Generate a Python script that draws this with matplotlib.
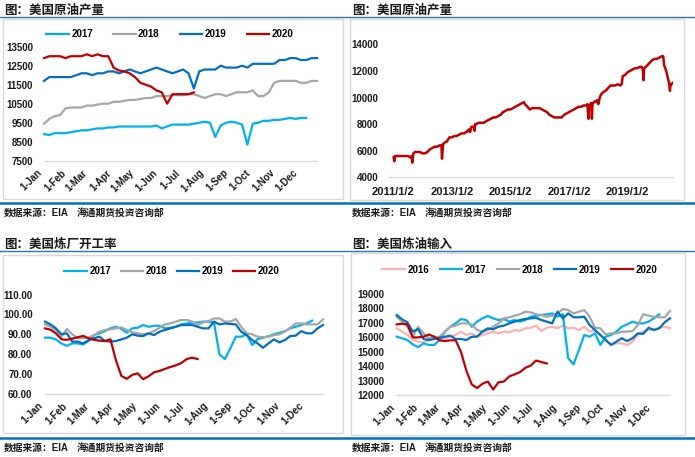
import numpy as np
import pandas as pd
import matplotlib
matplotlib.use("Agg")
import matplotlib.pyplot as plt
from matplotlib.lines import Line2D
from matplotlib.patches import Rectangle
from matplotlib.ticker import FormatStrFormatter

plt.rcParams['font.family'] = ['Liberation Sans', 'Noto Sans CJK SC', 'DejaVu Sans']
plt.rcParams['font.weight'] = 'bold'

W, H = 695, 457

# series colours
C2016 = '#FFB0B0'
C2017 = '#00B0F0'
C2018 = '#A6A6A6'
C2019 = '#0070C0'
C2020 = '#C00000'

month_days = [0, 31, 59, 90, 120, 151, 181, 212, 243, 273, 304, 334]
month_labels = ['1-Jan', '1-Feb', '1-Mar', '1-Apr', '1-May', '1-Jun',
                '1-Jul', '1-Aug', '1-Sep', '1-Oct', '1-Nov', '1-Dec']

# --- 美国原油产量 (weekly, by year)
prod17 = [8900, 8850, 8950, 8950, 8950, 9000, 9050, 9100, 9100, 9150,
          9200, 9200, 9250, 9250, 9300, 9300, 9300, 9300, 9300, 9300,
          9300, 9350, 9200, 9300, 9400, 9400, 9400, 9400, 9450, 9500,
          9550, 9500, 8750, 9350, 9500, 9550, 9500, 9400, 8350, 9450,
          9500, 9600, 9600, 9650, 9650, 9700, 9750, 9700, 9750, 9750]
prod18 = [9450, 9700, 9850, 9900, 10250, 10300, 10300, 10300, 10400, 10400,
          10450, 10500, 10500, 10600, 10600, 10650, 10700, 10700, 10750, 10800,
          10800, 10900, 10900, 10900, 10950, 10950, 10950, 11000, 11000, 10900,
          10800, 10900, 11000, 11000, 10900, 11000, 11100, 11100, 11100, 11200,
          10900, 10900, 11100, 11600, 11700, 11700, 11700, 11700, 11600, 11600,
          11700, 11700]
prod19 = [11700, 11900, 11900, 11900, 11900, 11900, 12000, 12100, 12100, 12000,
          12100, 12100, 12200, 12200, 12100, 12200, 12300, 12200, 12100, 12200,
          12300, 12400, 12300, 12200, 12100, 12200, 12300, 12100, 11300, 12200,
          12300, 12300, 12300, 12500, 12400, 12400, 12400, 12500, 12400, 12600,
          12600, 12600, 12600, 12600, 12800, 12800, 12900, 12900, 12800, 12800,
          12900, 12900]
prod20 = [12900, 13000, 13000, 13000, 12900, 13000, 13000, 13000, 13100, 13000,
          13100, 13000, 13000, 12400, 12250, 12200, 12100, 11900, 11600, 11500,
          11400, 11200, 11100, 10500, 11000, 11000, 11000, 11000, 11100]

# --- 美国原油产量 (long history)
hist_dates = ['2011-01-07', '2011-01-14', '2011-01-21', '2011-03-01', '2011-04-01',
              '2011-05-01', '2011-06-01', '2011-07-01', '2011-08-01', '2011-08-19',
              '2011-08-26', '2011-09-09', '2011-10-01', '2011-11-01', '2011-12-01',
              '2012-01-01', '2012-02-01', '2012-03-01', '2012-04-01', '2012-05-01',
              '2012-06-01', '2012-07-01', '2012-08-01', '2012-08-24', '2012-08-31',
              '2012-09-14', '2012-10-01', '2012-11-01', '2012-12-01', '2013-01-01',
              '2013-02-01', '2013-03-01', '2013-04-01', '2013-05-01', '2013-06-01',
              '2013-07-01', '2013-07-19', '2013-08-01', '2013-08-16', '2013-09-01',
              '2013-10-01', '2013-10-11', '2013-10-18', '2013-11-01', '2013-12-01',
              '2014-01-01', '2014-02-01', '2014-03-01', '2014-04-01', '2014-05-01',
              '2014-06-01', '2014-07-01', '2014-08-01', '2014-09-01', '2014-10-01',
              '2014-11-01', '2014-12-01', '2015-01-01', '2015-02-01', '2015-03-01',
              '2015-04-01', '2015-05-01', '2015-06-01', '2015-06-19', '2015-07-01',
              '2015-08-01', '2015-09-01', '2015-10-01', '2015-11-01', '2015-12-01',
              '2016-01-01', '2016-02-01', '2016-03-01', '2016-04-01', '2016-05-01',
              '2016-06-01', '2016-07-01', '2016-08-01', '2016-09-01', '2016-10-01',
              '2016-11-01', '2016-12-01', '2017-01-01', '2017-02-01', '2017-03-01',
              '2017-04-01', '2017-05-01', '2017-06-01', '2017-07-01', '2017-08-01',
              '2017-08-18', '2017-08-25', '2017-09-01', '2017-09-08', '2017-09-22',
              '2017-10-06', '2017-10-13', '2017-10-20', '2017-11-01', '2017-11-17',
              '2017-12-01', '2017-12-15', '2018-01-01', '2018-01-19', '2018-02-01',
              '2018-03-01', '2018-04-01', '2018-05-01', '2018-06-01', '2018-07-01',
              '2018-08-01', '2018-09-01', '2018-10-01', '2018-10-19', '2018-11-01',
              '2018-12-01', '2019-01-01', '2019-02-01', '2019-03-01', '2019-04-01',
              '2019-05-01', '2019-06-01', '2019-06-28', '2019-07-12', '2019-07-19',
              '2019-07-26', '2019-08-15', '2019-09-01', '2019-10-01', '2019-11-01',
              '2019-12-01', '2020-01-01', '2020-02-01', '2020-03-01', '2020-03-20',
              '2020-04-01', '2020-04-15', '2020-05-01', '2020-05-15', '2020-06-01',
              '2020-06-12', '2020-06-19', '2020-07-03', '2020-07-17']
hist_values = [5500, 5200, 5600, 5600, 5600,
               5600, 5600, 5600, 5500, 5600,
               5100, 5800, 5900, 5900, 5900,
               5800, 5800, 5900, 6100, 6200,
               6300, 6300, 6400, 6400, 5400,
               6500, 6600, 6700, 7000, 7000,
               7100, 7100, 7200, 7300, 7300,
               7400, 7500, 7600, 7400, 7800,
               7800, 7500, 8000, 8000, 8100,
               8100, 8100, 8200, 8300, 8400,
               8500, 8500, 8600, 8700, 8900,
               9000, 9100, 9100, 9200, 9300,
               9400, 9500, 9600, 9650, 9500,
               9300, 9100, 9200, 9200, 9200,
               9200, 9100, 9000, 8900, 8700,
               8600, 8500, 8500, 8500, 8500,
               8700, 8800, 8900, 9000, 9100,
               9200, 9300, 9300, 9400, 9400,
               9500, 8800, 8400, 9400, 9500,
               9600, 8400, 9500, 9600, 9700,
               9700, 9800, 9500, 10000, 10200,
               10400, 10500, 10700, 10900, 10900,
               10900, 11000, 10900, 11000, 11600,
               11700, 11900, 12000, 12100, 12200,
               12200, 12300, 12300, 12000, 11300,
               12200, 12300, 12400, 12600, 12800,
               12900, 12900, 13000, 13100, 13100,
               12400, 12200, 11900, 11500, 11100,
               10500, 11000, 11000, 11100]
hist_ticks = ['2011-01-02', '2013-01-02', '2015-01-02', '2017-01-02', '2019-01-02']
hist_tick_labels = ['2011/1/2', '2013/1/2', '2015/1/2', '2017/1/2', '2019/1/2']

# --- 美国炼厂开工率
util17 = [88.3, 88.3, 87.4, 85.4, 84.2, 85.4, 85.4, 84.9, 86.6, 89.6,
          90.5, 91.6, 93.0, 93.8, 92.7, 90.8, 93.0, 93.3, 94.7, 93.8,
          94.3, 94.3, 93.0, 93.3, 93.8, 95.0, 95.5, 95.9, 95.9, 96.4,
          96.4, 96.0, 79.9, 77.5, 82.9, 88.8, 88.8, 90.0, 84.6, 87.6,
          88.3, 89.0, 90.0, 90.8, 91.6, 93.0, 93.8, 94.7, 95.5, 96.9]
util18 = [95.0, 93.8, 92.2, 88.8, 92.7, 90.0, 88.0, 88.0, 88.3, 89.6,
          91.3, 92.2, 92.5, 93.0, 93.5, 92.2, 91.0, 90.5, 90.0, 90.5,
          91.6, 93.3, 95.0, 95.5, 96.4, 97.2, 97.2, 96.4, 94.7, 96.0,
          96.7, 98.0, 98.0, 96.4, 96.4, 97.7, 93.8, 90.5, 90.0, 88.8,
          88.5, 88.8, 89.6, 90.0, 91.3, 93.3, 95.5, 95.5, 95.0, 95.0,
          95.0, 97.5]
util19 = [96.4, 95.0, 93.0, 90.0, 90.5, 86.3, 86.3, 85.4, 87.1, 88.0,
          88.8, 86.6, 86.3, 86.6, 87.4, 88.3, 90.0, 89.3, 89.1, 90.5,
          89.6, 91.3, 92.2, 93.0, 93.8, 94.7, 94.7, 94.7, 93.8, 93.0,
          93.0, 96.4, 95.0, 95.5, 95.2, 95.0, 91.3, 89.6, 87.1, 85.4,
          83.2, 85.4, 87.4, 85.9, 87.1, 89.1, 89.3, 91.6, 90.5, 90.5,
          93.0, 94.7]
util20 = [93.0, 92.3, 90.5, 87.5, 87.2, 87.8, 88.5, 89.2, 88.0, 87.2,
          86.8, 86.6, 87.5, 77.0, 69.0, 67.5, 69.5, 70.3, 67.3, 68.8,
          70.8, 71.5, 72.5, 73.5, 74.3, 75.5, 77.5, 78.2, 77.5]

# --- 美国炼油输入
inp16 = [16630, 16400, 16170, 15820, 15710, 15660, 15820, 15940, 15940, 15940,
         16050, 16170, 16400, 16170, 16280, 16050, 16170, 16280, 16400, 16280,
         16400, 16350, 16510, 16450, 16630, 16670, 16810, 16440, 16670, 16740,
         16630, 16810, 16630, 16670, 16510, 16740, 16400, 16510, 16170, 15820,
         15480, 15590, 15590, 15480, 15710, 16170, 16400, 16510, 16560, 16670,
         16740, 16630]
inp17 = [16050, 15940, 15820, 15520, 15320, 15590, 15480, 15480, 15820, 16400,
         16740, 16970, 17270, 17200, 16740, 17090, 17320, 17480, 17320, 17200,
         17270, 17090, 17200, 17090, 17200, 17430, 17500, 17550, 17600, 17660,
         17430, 17600, 14560, 14140, 15130, 16170, 16050, 16280, 15480, 16050,
         16170, 16400, 16740, 16900, 17090, 16970, 16970, 17090, 17320, 17600]
inp18 = [17430, 17090, 16740, 16050, 16740, 16280, 15940, 15980, 16050, 16400,
         16740, 16810, 16970, 16970, 16900, 16510, 16400, 16510, 16740, 16970,
         17320, 17390, 17500, 17600, 17780, 17730, 17600, 17550, 17430, 17500,
         17660, 17960, 17890, 17660, 17780, 17890, 17430, 16670, 16630, 16210,
         16280, 16280, 16400, 16400, 16440, 16860, 17600, 17500, 17430, 17390,
         17390, 17830]
inp19 = [17550, 17250, 17040, 16400, 16580, 15890, 15820, 15890, 15980, 16050,
         16120, 15890, 15890, 15820, 16050, 16050, 16400, 16630, 16560, 16740,
         16810, 16970, 17090, 17200, 17270, 17320, 17360, 17200, 17090, 16970,
         17780, 17320, 17660, 17390, 17390, 17430, 16860, 16510, 16170, 15820,
         15480, 15710, 15940, 15750, 15940, 16280, 16240, 16670, 16510, 16630,
         17040, 17320]
inp20 = [16900, 16950, 16900, 16000, 16000, 16050, 16200, 16050, 15800, 15750,
         15800, 15800, 15000, 13700, 12750, 12500, 12800, 12950, 12400, 12900,
         12950, 13300, 13450, 13600, 13900, 14050, 14400, 14300, 14200]


fig = plt.figure(figsize=(W / 100, H / 100), dpi=100)


def px_axes(left, top, right, bottom):
    return fig.add_axes([left / W, 1 - bottom / H, (right - left) / W, (bottom - top) / H])


def hline(x0, x1, y, color, lw):
    fig.add_artist(Line2D([x0 / W, x1 / W], [1 - y / H, 1 - y / H],
                          transform=fig.transFigure, color=color, lw=lw))


def frame(x0, y0, x1, y1):
    fig.add_artist(Rectangle((x0 / W, 1 - y1 / H), (x1 - x0) / W, (y1 - y0) / H,
                             transform=fig.transFigure, fill=False,
                             edgecolor='#D9D9D9', lw=1))


def ftext(x, y, s, size):
    fig.text(x / W, 1 - y / H, s, fontsize=size, fontweight='bold',
             ha='left', va='center', color='#1a1a1a')


def style(ax, ypad):
    for s in ['top', 'left', 'right']:
        ax.spines[s].set_visible(False)
    ax.spines['bottom'].set_color('#D9D9D9')
    ax.spines['bottom'].set_linewidth(1)
    ax.tick_params(length=0, labelsize=7, colors='#1a1a1a')
    ax.tick_params(axis='y', pad=ypad)
    ax.patch.set_alpha(0)


def month_axis(ax):
    ax.set_xlim(0, 51)
    ax.set_xticks(np.array(month_days) / 7)
    ax.set_xticklabels(month_labels, rotation=45, ha='right')
    ax.tick_params(axis='x', pad=5)


def weekly(ax, data, color, label):
    ax.plot(np.arange(len(data)), data, color=color, lw=1.6, label=label,
            clip_on=False, solid_joinstyle='round')


# panel frames, titles, rules and sources
hline(0, W, 17.3, '#2E75B6', 1.0)
hline(0, W, 251.3, '#2E75B6', 1.0)
hline(0, W, 203.5, '#0070C0', 1.8)
hline(0, W, 438.0, '#0070C0', 1.8)
frame(3.3, 19.3, 343, 199.3)
frame(350, 19.3, 684.3, 200)
frame(3.3, 254.7, 343.3, 433)
frame(351, 253, 685, 434.7)

ftext(4, 11, '图：美国原油产量', 9)
ftext(352, 11, '图：美国原油产量', 9)
ftext(4, 245, '图：美国炼厂开工率', 9)
ftext(352, 245, '图：美国炼油输入', 9)
for x0, y0 in [(4, 213), (352, 213), (4, 448), (352, 448)]:
    ftext(x0, y0, '数据来源：EIA', 7)
    ftext(x0 + 73, y0, '海通期货投资咨询部', 7)

# 1) crude production by year
ax1 = px_axes(44, 46.7, 317, 160.7)
weekly(ax1, prod17, C2017, '2017')
weekly(ax1, prod18, C2018, '2018')
weekly(ax1, prod19, C2019, '2019')
weekly(ax1, prod20, C2020, '2020')
ax1.set_ylim(7500, 13500)
ax1.set_yticks(range(7500, 13501, 1000))
style(ax1, 8)
month_axis(ax1)
ax1.legend(loc='center', bbox_to_anchor=(170 / W, 1 - 34.3 / H),
           bbox_transform=fig.transFigure, ncol=4, frameon=False, fontsize=7,
           handlelength=2.3, handletextpad=0.25, columnspacing=2.1)

# 2) crude production history
ax2 = px_axes(388, 44.3, 673, 177.3)
ax2.plot(pd.to_datetime(hist_dates), hist_values, color=C2020, lw=1.8)
ax2.set_xlim(pd.Timestamp('2010-10-28'), pd.Timestamp('2020-07-20'))
ax2.set_ylim(4000, 14000)
ax2.set_yticks(range(4000, 14001, 2000))
style(ax2, 7)
ax2.set_xticks(pd.to_datetime(hist_ticks))
ax2.set_xticklabels(hist_tick_labels, fontsize=8)
ax2.tick_params(axis='x', pad=7)

# 3) refinery utilisation
ax3 = px_axes(45, 294.7, 323, 393.7)
weekly(ax3, util17, C2017, '2017')
weekly(ax3, util18, C2018, '2018')
weekly(ax3, util19, C2019, '2019')
weekly(ax3, util20, C2020, '2020')
ax3.set_ylim(60, 110)
ax3.set_yticks(range(60, 111, 10))
ax3.yaxis.set_major_formatter(FormatStrFormatter('%.2f'))
style(ax3, 9)
month_axis(ax3)
ax3.legend(loc='center', bbox_to_anchor=(172 / W, 1 - 271.3 / H),
           bbox_transform=fig.transFigure, ncol=4, frameon=False, fontsize=7,
           handlelength=2.3, handletextpad=0.25, columnspacing=1.0)

# 4) refinery inputs
ax4 = px_axes(396.7, 294, 670, 395.3)
weekly(ax4, inp16, C2016, '2016')
weekly(ax4, inp17, C2017, '2017')
weekly(ax4, inp18, C2018, '2018')
weekly(ax4, inp19, C2019, '2019')
weekly(ax4, inp20, C2020, '2020')
ax4.set_ylim(12000, 19000)
ax4.set_yticks(range(12000, 19001, 1000))
style(ax4, 9)
month_axis(ax4)
ax4.legend(loc='center', bbox_to_anchor=(520 / W, 1 - 269.7 / H),
           bbox_transform=fig.transFigure, ncol=5, frameon=False, fontsize=7,
           handlelength=2.3, handletextpad=0.25, columnspacing=1.1)

fig.savefig('out.png', dpi=100)
